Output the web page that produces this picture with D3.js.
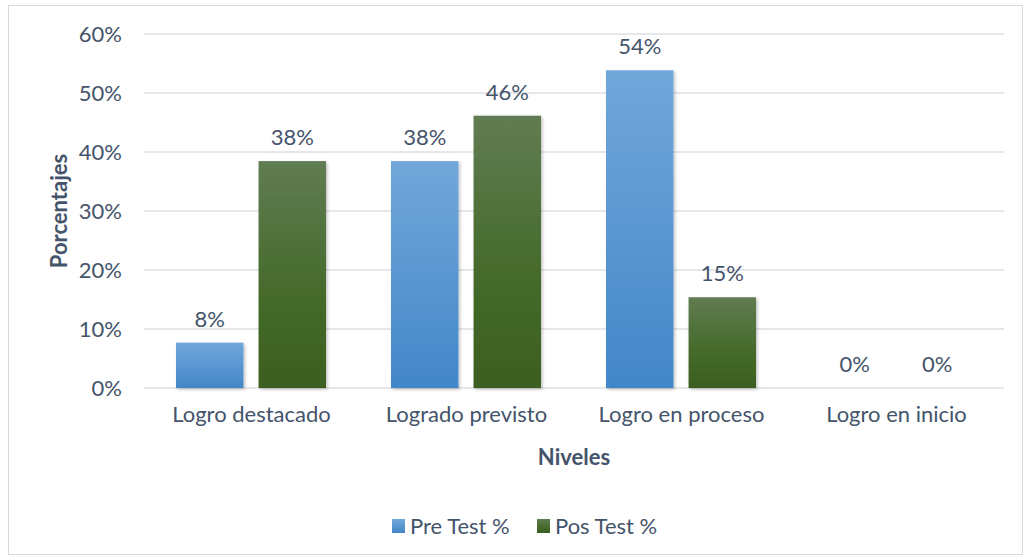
<!DOCTYPE html>
<html><head><meta charset="utf-8">
<script src="https://cdn.jsdelivr.net/npm/d3@7"></script>
<style>body{margin:0;background:#fff;}svg{display:block;} svg text{font-family:Lato,"Open Sans",sans-serif !important;}</style>
</head><body><svg id="c" width="1030" height="560"></svg>
<script>
const categories = ["Logro destacado","Logrado previsto","Logro en proceso","Logro en inicio"];
const seriesNames = ["Pre Test %","Pos Test %"];
const preTest = [0.0769, 0.3846, 0.5385, 0];
const posTest = [0.3846, 0.4615, 0.1538, 0];
const yTicks = [0,0.1,0.2,0.3,0.4,0.5,0.6];

const svg = d3.select("#c");
const textColor = "#44546a";
const fs = "22px";
const defs = svg.append("defs");
const g1 = defs.append("linearGradient").attr("id","gBlue").attr("x1",0).attr("y1",0).attr("x2",0).attr("y2",1);
g1.append("stop").attr("offset","0%").attr("stop-color","#72a7da");
g1.append("stop").attr("offset","100%").attr("stop-color","#4287c9");
const g2 = defs.append("linearGradient").attr("id","gGreen").attr("x1",0).attr("y1",0).attr("x2",0).attr("y2",1);
g2.append("stop").attr("offset","0%").attr("stop-color","#617c52");
g2.append("stop").attr("offset","60%").attr("stop-color","#446a2a");
g2.append("stop").attr("offset","100%").attr("stop-color","#3c5f20");
const f = defs.append("filter").attr("id","sh").attr("x","-20%").attr("y","-20%").attr("width","150%").attr("height","150%");
f.append("feDropShadow").attr("dx",1.5).attr("dy",1.5).attr("stdDeviation",1.5).attr("flood-color","#000").attr("flood-opacity",0.25);

svg.append("rect").attr("x",8.5).attr("y",5.5).attr("width",1014).attr("height",549)
  .attr("fill","#fff").attr("stroke","#d9d9d9").attr("stroke-width",1);

const x0 = d3.scaleBand().domain(categories).range([144,1004]).paddingInner(0).paddingOuter(0);
const y = d3.scaleLinear().domain([0,0.6]).range([388,34]);
const x1 = d3.scaleBand().domain(seriesNames).range([32,182]).paddingInner(0.183).paddingOuter(0);

svg.append("g").selectAll("line").data(yTicks).join("line")
  .attr("x1",144).attr("x2",1004).attr("y1",d=>y(d)).attr("y2",d=>y(d))
  .attr("stroke","#dcdfe4").attr("stroke-width",1.5);

const yAxis = d3.axisLeft(y).tickValues(yTicks).tickFormat(d3.format(".0%")).tickSize(0).tickPadding(0);
const ya = svg.append("g").attr("transform","translate(122,0)").call(yAxis).attr("font-size",null).attr("font-family",null);
ya.select(".domain").remove();
ya.selectAll("text").attr("fill",textColor).style("font-size",fs).attr("dy","0.35em");

const xAxis = d3.axisBottom(x0).tickSize(0).tickPadding(0);
const xa = svg.append("g").attr("transform","translate(0,406)").call(xAxis).attr("font-size",null).attr("font-family",null);
xa.select(".domain").remove();
xa.selectAll("text").attr("fill",textColor).style("font-size",fs).attr("dy","0.71em");

const data = categories.map((c,i)=>({cat:c, vals:[{s:seriesNames[0],v:preTest[i]},{s:seriesNames[1],v:posTest[i]}]}));
const fills = {"Pre Test %":"url(#gBlue)","Pos Test %":"url(#gGreen)"};
const grp = svg.append("g").selectAll("g").data(data).join("g").attr("transform",d=>`translate(${x0(d.cat)},0)`);
grp.selectAll("rect").data(d=>d.vals).join("rect")
  .attr("x",d=>x1(d.s)).attr("width",x1.bandwidth())
  .attr("y",d=>y(d.v)).attr("height",d=>y(0)-y(d.v))
  .attr("fill",d=>fills[d.s]).attr("filter",d=>d.v>0?"url(#sh)":null);
grp.selectAll("text").data(d=>d.vals).join("text")
  .attr("x",d=>x1(d.s)+x1.bandwidth()/2).attr("y",d=>y(d.v)-16)
  .attr("text-anchor","middle").attr("fill",textColor).style("font-size",fs)
  .text(d=>d3.format(".0%")(d.v));

svg.append("text").attr("x",574).attr("y",465).attr("text-anchor","middle")
  .attr("fill",textColor).style("font-size",fs).style("font-weight","bold").text("Niveles");
svg.append("text").attr("transform","translate(67,211) rotate(-90)").attr("text-anchor","middle")
  .attr("fill",textColor).style("font-size",fs).style("font-weight","bold").text("Porcentajes");

const leg = svg.append("g");
const legX = [392,537];
seriesNames.forEach((s,i)=>{
  leg.append("rect").attr("x",legX[i]).attr("y",519).attr("width",13).attr("height",14).attr("fill",fills[s]);
  leg.append("text").attr("x",legX[i]+18).attr("y",526).attr("dy","0.35em").attr("fill",textColor)
    .style("font-size",fs).text(s);
});
</script></body></html>
